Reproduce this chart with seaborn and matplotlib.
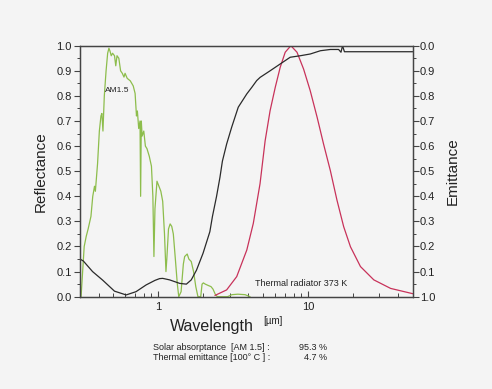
import numpy as np
import pandas as pd
import matplotlib
matplotlib.use("Agg")
import matplotlib.pyplot as plt
import matplotlib.ticker as mticker
import seaborn as sns

# ---- data ----
am15_wl = [0.30, 0.305, 0.32, 0.33, 0.34, 0.355, 0.365, 0.375, 0.38, 0.393, 0.404, 0.414, 0.42,
           0.427, 0.436, 0.448, 0.459, 0.468, 0.475, 0.485, 0.495, 0.51, 0.52, 0.53, 0.545, 0.56,
           0.575, 0.59, 0.60, 0.62, 0.65, 0.68, 0.70, 0.715, 0.725, 0.74, 0.755, 0.762, 0.77,
           0.78, 0.80, 0.82, 0.84, 0.87, 0.90, 0.92, 0.935, 0.95, 0.98, 1.01, 1.04, 1.07, 1.10,
           1.125, 1.14, 1.17, 1.20, 1.23, 1.26, 1.30, 1.34, 1.37, 1.42, 1.47, 1.50, 1.56, 1.60,
           1.66, 1.72, 1.78, 1.84, 1.92, 1.96, 2.00, 2.06, 2.15, 2.25, 2.32, 2.40, 2.48, 2.7,
           2.9, 3.1, 3.4, 3.8, 4.1]
am15_val = [0.0, 0.0, 0.20, 0.24, 0.27, 0.32, 0.40, 0.44, 0.42, 0.53, 0.66, 0.72, 0.73,
            0.66, 0.80, 0.90, 0.97, 0.99, 0.98, 0.96, 0.97, 0.96, 0.92, 0.96, 0.95, 0.90,
            0.89, 0.875, 0.89, 0.87, 0.86, 0.84, 0.81, 0.72, 0.74, 0.67, 0.70, 0.40, 0.70,
            0.64, 0.66, 0.60, 0.59, 0.56, 0.52, 0.40, 0.16, 0.35, 0.46, 0.44, 0.42, 0.38, 0.25,
            0.10, 0.15, 0.27, 0.29, 0.28, 0.25, 0.15, 0.05, 0.0, 0.02, 0.13, 0.16, 0.17, 0.15,
            0.14, 0.10, 0.04, 0.0, 0.0, 0.05, 0.055, 0.05, 0.045, 0.04, 0.03, 0.01, 0.0, 0.0,
            0.0, 0.008, 0.01, 0.008, 0.0]

refl_wl = [0.30, 0.316, 0.364, 0.425, 0.51, 0.61, 0.71, 0.83, 0.95, 1.02, 1.07, 1.19, 1.39,
           1.54, 1.66, 1.80, 1.99, 2.21, 2.30, 2.45, 2.58, 2.68, 2.86, 3.09, 3.42, 3.90, 4.21,
           4.54, 4.79, 5.58, 6.51, 7.6, 8.87, 10.35, 12.1, 14.1, 16.0, 16.6, 17.0, 17.5, 25.0,
           50.0]
refl_val = [0.15, 0.142, 0.10, 0.066, 0.022, 0.007, 0.02, 0.047, 0.065, 0.072, 0.073, 0.067,
            0.053, 0.050, 0.067, 0.106, 0.173, 0.259, 0.32, 0.40, 0.475, 0.54, 0.608, 0.675,
            0.755, 0.808, 0.834, 0.861, 0.874, 0.90, 0.927, 0.954, 0.960, 0.967, 0.980, 0.985,
            0.985, 0.974, 1.0, 0.976, 0.976, 0.976]

planck_wl = [2.39, 2.86, 3.34, 3.9, 4.31, 4.78, 5.17, 5.58, 6.04, 6.52, 7.04, 7.68, 8.44,
             9.34, 10.34, 11.5, 12.7, 14.1, 15.6, 17.3, 19.2, 22.4, 27.5, 35.6, 50.0]
planck_val = [0.005, 0.027, 0.08, 0.186, 0.292, 0.45, 0.621, 0.741, 0.834, 0.914, 0.974, 1.0,
              0.974, 0.907, 0.821, 0.715, 0.608, 0.502, 0.385, 0.279, 0.199, 0.12, 0.067,
              0.033, 0.012]

x_ticks = [1, 10]
x_ticklabels = ["1", "10"]
y_ticks = [0.0, 0.1, 0.2, 0.3, 0.4, 0.5, 0.6, 0.7, 0.8, 0.9, 1.0]
left_labels = ["0.0", "0.1", "0.2", "0.3", "0.4", "0.5", "0.6", "0.7", "0.8", "0.9", "1.0"]
right_labels = ["1.0", "0.1", "0.2", "0.3", "0.4", "0.5", "0.6", "0.7", "0.8", "0.9", "0.0"]

# ---- styling ----
sns.set_theme(style="ticks")
plt.rcParams["font.family"] = ["Liberation Sans", "DejaVu Sans"]
bg = "#f4f4f4"
spine_c = "#444444"

fig = plt.figure(figsize=(4.92, 3.89), dpi=100, facecolor=bg)
ax = fig.add_axes([0.1626, 0.2373, 0.6762, 0.6452], facecolor=bg)

am = pd.DataFrame({"wl": am15_wl, "v": am15_val})
rf = pd.DataFrame({"wl": refl_wl, "v": refl_val})
pl = pd.DataFrame({"wl": planck_wl, "v": planck_val})

sns.lineplot(data=am, x="wl", y="v", ax=ax, color="#8dbd4c", lw=0.9, estimator=None)
sns.lineplot(data=pl, x="wl", y="v", ax=ax, color="#c8325a", lw=0.9, estimator=None)
sns.lineplot(data=rf, x="wl", y="v", ax=ax, color="#2a2a2a", lw=0.9, estimator=None)

ax.set_xscale("log")
ax.set_xlim(0.3, 50)
ax.set_ylim(0, 1)
ax.xaxis.set_major_locator(mticker.FixedLocator(x_ticks))
ax.xaxis.set_major_formatter(mticker.FixedFormatter(x_ticklabels))
ax.xaxis.set_minor_locator(mticker.LogLocator(base=10, subs=np.arange(2, 10), numticks=20))
ax.xaxis.set_minor_formatter(mticker.NullFormatter())
ax.set_yticks(y_ticks)
ax.set_yticklabels(left_labels)
ax.yaxis.set_minor_locator(mticker.MultipleLocator(0.05))

for s in ax.spines.values():
    s.set_color(spine_c)
    s.set_linewidth(0.9)

ax.tick_params(axis="y", which="major", direction="out", length=4, width=0.8,
               color=spine_c, labelsize=8, pad=2, labelcolor="#222222")
ax.tick_params(axis="y", which="minor", direction="out", length=2.5, width=0.7, color=spine_c)
ax.tick_params(axis="x", which="major", direction="in", length=4, width=0.8,
               color=spine_c, labelsize=8, pad=4, labelcolor="#222222")
ax.tick_params(axis="x", which="minor", direction="in", length=3, width=0.7, color=spine_c)

ax.set_xlabel("")
ax.set_ylabel("Reflectance", fontsize=11, labelpad=6, color="#222222")

ax2 = ax.twinx()
ax2.set_ylim(0, 1)
ax2.set_yticks(y_ticks)
ax2.set_yticklabels(right_labels)
ax2.yaxis.set_minor_locator(mticker.MultipleLocator(0.05))
ax2.tick_params(axis="y", which="major", direction="out", length=4, width=0.8,
                color=spine_c, labelsize=8, pad=1, labelcolor="#222222")
ax2.tick_params(axis="y", which="minor", direction="out", length=2.5, width=0.7, color=spine_c)
for s in ax2.spines.values():
    s.set_color(spine_c)
    s.set_linewidth(0.9)
ax2.set_ylabel("Emittance", fontsize=11, labelpad=8, color="#222222")

ax.text(0.443, 0.82, "AM1.5", fontsize=6, va="center", ha="left", color="#222222")
ax.text(4.43, 0.053, "Thermal radiator 373 K", fontsize=6.5, va="center", ha="left",
        color="#222222")

fig.text(212 / 492, 1 - 326 / 389, "Wavelength", fontsize=11.5, ha="center", va="center",
         color="#222222")
fig.text(273 / 492, 1 - 321 / 389, "[µm]", fontsize=7, ha="center", va="center",
         color="#222222")

narrow = ["Liberation Sans Narrow", "Liberation Sans", "DejaVu Sans"]
fig.text(153 / 492, 1 - 347 / 389, "Solar absorptance  [AM 1.5] :", fontsize=6.5,
         ha="left", va="center", family=narrow, color="#222222")
fig.text(153 / 492, 1 - 357.5 / 389, "Thermal emittance [100° C ] :", fontsize=6.5,
         ha="left", va="center", family=narrow, color="#222222")
fig.text(327 / 492, 1 - 347 / 389, "95.3 %", fontsize=6.5, ha="right", va="center",
         family=narrow, color="#222222")
fig.text(327 / 492, 1 - 357.5 / 389, "4.7 %", fontsize=6.5, ha="right", va="center",
         family=narrow, color="#222222")

fig.savefig("out.png", dpi=100, facecolor=bg)
